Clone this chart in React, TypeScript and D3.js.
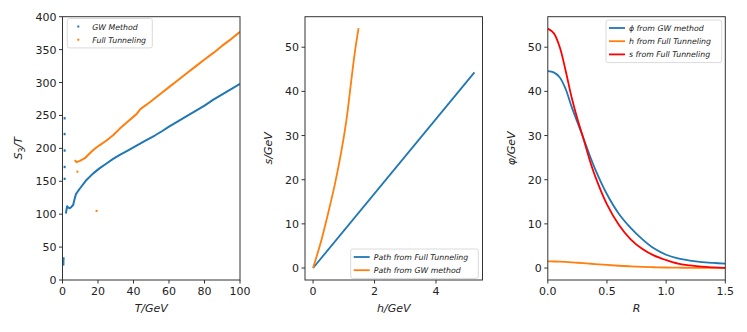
import React from 'react';
import * as d3 from 'd3';

// Panel 1: S3/T vs T (scatter, dense runs drawn as a thick trace)
const gwT = [1.9, 2.6, 3.3, 4.1, 5.0, 6.0, 6.9, 7.5, 8.5, 9.8, 13.5, 17.3, 21, 24.8, 28.5, 32.3, 37, 41.7, 47, 52, 56, 60, 65, 70, 75, 80, 85, 90, 95, 100];
const gwS = [101, 112, 110, 109, 111, 114, 124, 130, 134, 139, 152, 162, 170, 177, 184, 190, 197, 204, 212, 219.5, 226, 233, 241, 249, 257, 265, 274, 282, 290, 298];
const gwStrayT = [1.2, 1.2, 1.2, 1.2, 1.2, 0.5, 0.5, 0.5, 0.6];
const gwStrayS = [246, 222, 197, 172, 154, 24, 27, 30, 33];
const ftT = [6.9, 7.9, 9.8, 12.6, 15.4, 18, 21, 24.8, 28.5, 32.3, 37, 41.7, 44, 49.2, 52, 56, 60, 65, 70, 75, 80, 85, 90, 95, 100];
const ftS = [182, 179, 181, 185, 192.5, 199, 205, 212, 220, 230, 241, 252, 260, 270, 276, 284.5, 293, 303.5, 314, 324.5, 335, 345, 356, 366, 377];
const ftStrayT = [8.4, 19.2];
const ftStrayS = [164.6, 105];

// Panel 2: field-space paths
const pathFtH = [0, 5.25];
const pathFtS = [0, 44.3];
const pathGwH = [0, 0.27, 0.49, 0.71, 0.92, 1.085, 1.22, 1.35, 1.48];
const pathGwS = [0, 6.3, 12.4, 19.0, 26.4, 33.5, 41.1, 48.4, 54.3];

// Panel 3: bounce profiles
const radius = [0, 0.05, 0.1, 0.15, 0.2, 0.25, 0.3, 0.35, 0.4, 0.5, 0.6, 0.7, 0.8, 0.9, 1.0, 1.1, 1.2, 1.3, 1.4, 1.5];
const phiGw = [44.6, 44.3, 43.2, 40.6, 36.6, 33.0, 29.5, 25.8, 22.4, 16.7, 12.3, 9.1, 6.5, 4.4, 3.0, 2.2, 1.7, 1.35, 1.15, 1.0];
const hFt = [1.5, 1.48, 1.45, 1.38, 1.3, 1.2, 1.1, 1.0, 0.9, 0.7, 0.52, 0.38, 0.27, 0.18, 0.12, 0.08, 0.05, 0.03, 0.02, 0.01];
const sFt = [54.2, 53.2, 50.1, 44.8, 38.8, 33.8, 29.4, 24.8, 20.8, 14.4, 9.8, 6.5, 4.3, 2.8, 1.8, 1.0, 0.6, 0.3, 0.15, 0.05];

const p1Xticks = [0, 20, 40, 60, 80, 100];
const p1Yticks = [0, 50, 100, 150, 200, 250, 300, 350, 400];
const p2Xticks = [0, 2, 4];
const p23Yticks = [0, 10, 20, 30, 40, 50];
const p3Xticks = [0, 0.5, 1.0, 1.5];

const BLUE = '#1f77b4';
const ORANGE = '#ff7f0e';
const RED = '#ff0000';
const FONT = 'DejaVu Sans, sans-serif';

const TOP = 16.7;
const BOTTOM = 280;
const W = 177.5;

type Pt = [number, number];
const zip = (a: number[], b: number[]): Pt[] => a.map((v, i) => [v, b[i]]);

function Axes({ left, x, y, xticks, yticks, xfmt, yfmt, xlabel, ylabel, ylabelX, children }: any) {
  const right = left + W;
  return (
    <g>
      <rect x={left} y={TOP} width={W} height={BOTTOM - TOP} fill="#fff" />
      {children}
      <rect x={left} y={TOP} width={W} height={BOTTOM - TOP} fill="none" stroke="#333" strokeWidth={1} />
      {xticks.map((t: number) => (
        <g key={'x' + t}>
          <line x1={x(t)} x2={x(t)} y1={BOTTOM} y2={BOTTOM + 3.5} stroke="#333" />
          <text x={x(t)} y={BOTTOM + 15} textAnchor="middle" fontSize={11} fontFamily={FONT} fill="#222">{xfmt(t)}</text>
        </g>
      ))}
      {yticks.map((t: number) => (
        <g key={'y' + t}>
          <line x1={left - 3.5} x2={left} y1={y(t)} y2={y(t)} stroke="#333" />
          <text x={left - 6} y={y(t) + 4} textAnchor="end" fontSize={11} fontFamily={FONT} fill="#222">{yfmt(t)}</text>
        </g>
      ))}
      <text x={(left + right) / 2} y={BOTTOM + 32} textAnchor="middle" fontSize={11} fontFamily={FONT} fontStyle="italic" fill="#222">{xlabel}</text>
      <text transform={`translate(${ylabelX},${(TOP + BOTTOM) / 2}) rotate(-90)`} textAnchor="middle" fontSize={11} fontFamily={FONT} fill="#222">{ylabel}</text>
    </g>
  );
}

function Legend({ x, y, w, entries, kind }: any) {
  const rowH = 13.2;
  const h = entries.length * rowH + 3;
  return (
    <g>
      <rect x={x} y={y} width={w} height={h} rx={2} fill="#fff" fillOpacity={0.8} stroke="#d0d0d0" strokeWidth={0.8} />
      {entries.map((e: any, i: number) => {
        const cy = y + 8 + i * rowH;
        return (
          <g key={e.label}>
            {kind === 'dot'
              ? <rect x={x + 10} y={cy - 1} width={2} height={2} fill={e.color} />
              : <line x1={x + 3} x2={x + 19} y1={cy} y2={cy} stroke={e.color} strokeWidth={1.8} />}
            <text x={x + (kind === 'dot' ? 25 : 23)} y={cy + 3} fontSize={7.8} fontFamily={FONT} fontStyle="italic" fill="#222">{e.label}</text>
          </g>
        );
      })}
    </g>
  );
}

export default function App() {
  // panel 1
  const l1 = 62.5;
  const x1 = d3.scaleLinear().domain([0, 100]).range([l1, l1 + W]);
  const y1 = d3.scaleLinear().domain([0, 400]).range([BOTTOM, TOP]);
  const line1 = d3.line<Pt>().x(d => x1(d[0])).y(d => y1(d[1]));

  // panel 2
  const l2 = 305;
  const x2 = d3.scaleLinear().domain([-0.2625, 5.5125]).range([l2, l2 + W]);
  const y2 = d3.scaleLinear().domain([-2.71, 56.91]).range([BOTTOM, TOP]);
  const line2 = d3.line<Pt>().x(d => x2(d[0])).y(d => y2(d[1])).curve(d3.curveCatmullRom);

  // panel 3
  const l3 = 547.8;
  const x3 = d3.scaleLinear().domain([0, 1.5]).range([l3, l3 + W]);
  const y3 = d3.scaleLinear().domain([-2.71, 56.91]).range([BOTTOM, TOP]);
  const line3 = d3.line<Pt>().x(d => x3(d[0])).y(d => y3(d[1])).curve(d3.curveCatmullRom);

  const int = (t: number) => String(t);
  const one = (t: number) => t.toFixed(1);

  return (
    <svg width={747} height={332} style={{ position: 'absolute', left: 0, top: 0, background: '#fff' }}>
      <defs>
        <clipPath id="c1"><rect x={l1} y={TOP} width={W} height={BOTTOM - TOP} /></clipPath>
        <clipPath id="c3"><rect x={l3} y={TOP} width={W} height={BOTTOM - TOP} /></clipPath>
      </defs>

      <Axes left={l1} x={x1} y={y1} xticks={p1Xticks} yticks={p1Yticks} xfmt={int} yfmt={int}
        xlabel="T/GeV" ylabelX={22}
        ylabel={<><tspan fontStyle="italic">S</tspan><tspan fontSize={8} dy={3}>3</tspan><tspan fontStyle="italic" dy={-3}>/T</tspan></>}>
        <g clipPath="url(#c1)">
          <path d={line1(zip(gwT, gwS)) || ''} fill="none" stroke={BLUE} strokeWidth={2} strokeLinejoin="round" />
          <path d={line1(zip(ftT, ftS)) || ''} fill="none" stroke={ORANGE} strokeWidth={2} strokeLinejoin="round" />
          {zip(gwStrayT, gwStrayS).map((d, i) => (
            <rect key={'g' + i} x={x1(d[0]) - 1} y={y1(d[1]) - 1} width={2} height={2.4} fill={BLUE} />
          ))}
          {zip(ftStrayT, ftStrayS).map((d, i) => (
            <rect key={'f' + i} x={x1(d[0]) - 1} y={y1(d[1]) - 1} width={2} height={2} fill={ORANGE} />
          ))}
        </g>
        <Legend x={67.3} y={18.5} w={85} kind="dot"
          entries={[{ label: 'GW Method', color: BLUE }, { label: 'Full Tunneling', color: ORANGE }]} />
      </Axes>

      <Axes left={l2} x={x2} y={y2} xticks={p2Xticks} yticks={p23Yticks} xfmt={int} yfmt={int}
        xlabel="h/GeV" ylabelX={272}
        ylabel={<tspan fontStyle="italic">s/GeV</tspan>}>
        <path d={line2(zip(pathFtH, pathFtS)) || ''} fill="none" stroke={BLUE} strokeWidth={1.8} />
        <path d={line2(zip(pathGwH, pathGwS)) || ''} fill="none" stroke={ORANGE} strokeWidth={1.8} />
        <Legend x={350.7} y={249} w={127.6} kind="line"
          entries={[{ label: 'Path from Full Tunneling', color: BLUE }, { label: 'Path from GW method', color: ORANGE }]} />
      </Axes>

      <Axes left={l3} x={x3} y={y3} xticks={p3Xticks} yticks={p23Yticks} xfmt={one} yfmt={int}
        xlabel="R" ylabelX={515}
        ylabel={<tspan fontStyle="italic">φ/GeV</tspan>}>
        <g clipPath="url(#c3)">
          <path d={line3(zip(radius, phiGw)) || ''} fill="none" stroke={BLUE} strokeWidth={1.8} />
          <path d={line3(zip(radius, hFt)) || ''} fill="none" stroke={ORANGE} strokeWidth={1.8} />
          <path d={line3(zip(radius, sFt)) || ''} fill="none" stroke={RED} strokeWidth={1.8} />
        </g>
        <Legend x={606} y={20} w={115.7} kind="line"
          entries={[
            { label: 'ϕ from GW method', color: BLUE },
            { label: 'h from Full Tunneling', color: ORANGE },
            { label: 's from Full Tunneling', color: RED },
          ]} />
      </Axes>
    </svg>
  );
}
